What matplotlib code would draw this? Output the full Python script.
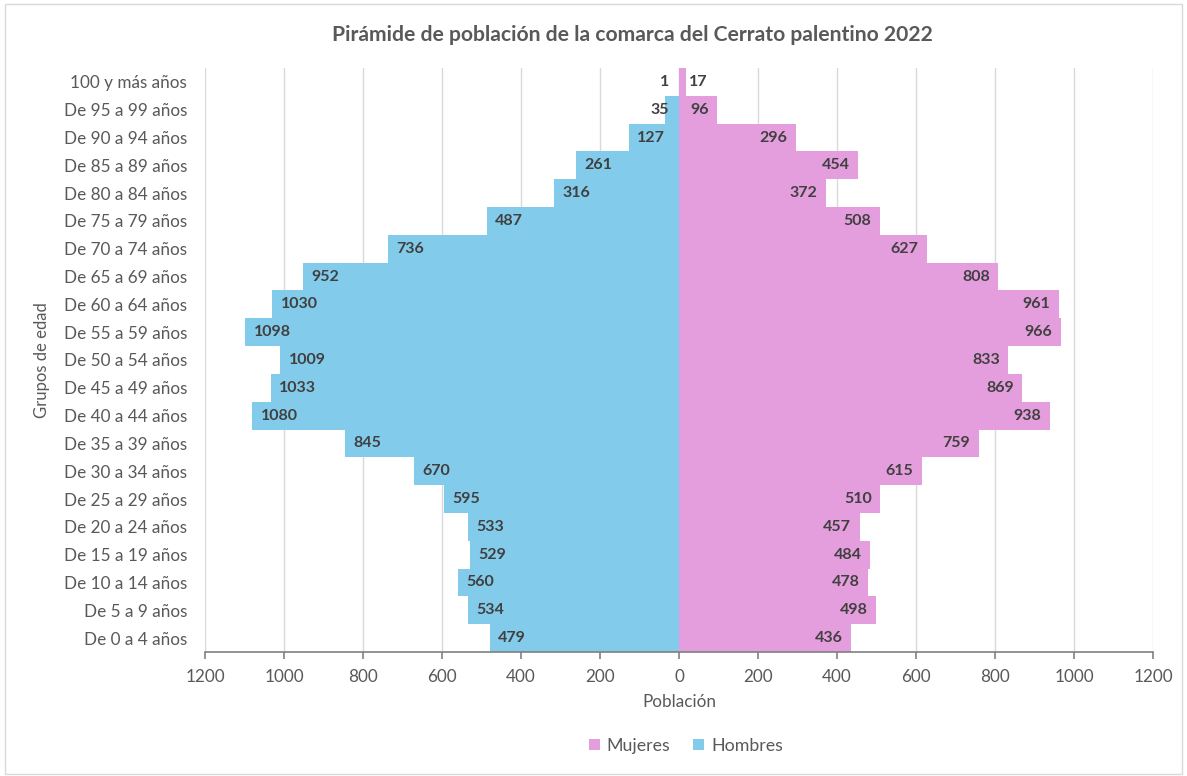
import matplotlib
matplotlib.use("Agg")
import matplotlib.pyplot as plt
from matplotlib.patches import Rectangle

grupos = ["De 0 a 4 años", "De 5 a 9 años", "De 10 a 14 años", "De 15 a 19 años",
          "De 20 a 24 años", "De 25 a 29 años", "De 30 a 34 años", "De 35 a 39 años",
          "De 40 a 44 años", "De 45 a 49 años", "De 50 a 54 años", "De 55 a 59 años",
          "De 60 a 64 años", "De 65 a 69 años", "De 70 a 74 años", "De 75 a 79 años",
          "De 80 a 84 años", "De 85 a 89 años", "De 90 a 94 años", "De 95 a 99 años",
          "100 y más años"]
hombres = [479, 534, 560, 529, 533, 595, 670, 845, 1080, 1033, 1009, 1098,
           1030, 952, 736, 487, 316, 261, 127, 35, 1]
mujeres = [436, 498, 478, 484, 457, 510, 615, 759, 938, 869, 833, 966,
           961, 808, 627, 508, 372, 454, 296, 96, 17]
xticks = [-1200, -1000, -800, -600, -400, -200, 0, 200, 400, 600, 800, 1000, 1200]

C_H = "#83CBEB"
C_M = "#E59EDD"
TXT = "#595959"
LBL = "#404040"

plt.rcParams['font.family'] = ['Lato', 'DejaVu Sans']

fig = plt.figure(figsize=(11.87, 7.76), dpi=100)
fig.patches.append(Rectangle((0.004, 0.003), 0.992, 0.992, transform=fig.transFigure,
                             fill=False, edgecolor="#D9D9D9", linewidth=1.0))
ax = fig.add_axes([205/1187, 1-652/776, (1153-205)/1187, (652-68)/776])

y = list(range(len(grupos)))
ax.barh(y, [-v for v in hombres], height=1.0, color=C_H, label="Hombres", zorder=2)
ax.barh(y, mujeres, height=1.0, color=C_M, label="Mujeres", zorder=2)

for i, (h, m) in enumerate(zip(hombres, mujeres)):
    if h >= 60:
        ax.annotate(str(h), (-h, i), xytext=(6, 0), textcoords="offset points",
                    ha="left", va="center", fontsize=11.5, fontweight="bold", color=LBL)
    else:
        ax.annotate(str(h), (0, i), xytext=(-7, 0), textcoords="offset points",
                    ha="right", va="center", fontsize=11.5, fontweight="bold", color=LBL)
    if m >= 60:
        ax.annotate(str(m), (m, i), xytext=(-6, 0), textcoords="offset points",
                    ha="right", va="center", fontsize=11.5, fontweight="bold", color=LBL)
    else:
        ax.annotate(str(m), (m, i), xytext=(2, 0), textcoords="offset points",
                    ha="left", va="center", fontsize=11.5, fontweight="bold", color=LBL)

ax.set_xlim(-1200, 1200)
ax.set_ylim(-0.5, len(grupos) - 0.5)
ax.set_xticks(xticks)
ax.set_xticklabels([str(abs(v)) for v in xticks])
ax.set_yticks(y)
ax.set_yticklabels(grupos)
ax.grid(axis="x", color="#D9D9D9", linewidth=1.0, zorder=0)
for s in ["top", "right", "left"]:
    ax.spines[s].set_visible(False)
ax.spines["bottom"].set_color("#808080")
ax.spines["bottom"].set_linewidth(1.2)
ax.tick_params(axis="x", colors="#808080", length=5, width=1.2, labelsize=12.3,
               labelcolor=TXT, pad=7)
ax.tick_params(axis="y", length=0, labelsize=12.3, labelcolor=TXT, pad=13)

ax.set_xlabel("Población", fontsize=12.3, color=TXT, labelpad=7)
ax.set_ylabel("Grupos de edad", fontsize=12, color=TXT, labelpad=10)

fig.text(632/1187, 1-35/776, "Pirámide de población de la comarca del Cerrato palentino 2022",
         ha="center", va="center", fontsize=15.2, fontweight="bold", color=TXT)

handles, labels = ax.get_legend_handles_labels()
order = [1, 0]
fig.legend([handles[i] for i in order], [labels[i] for i in order],
           loc="center", bbox_to_anchor=(686/1187, 1-746/776), ncol=2, frameon=False,
           fontsize=12.8, labelcolor=TXT, handlelength=0.6, handleheight=0.6,
           handletextpad=0.4, columnspacing=1.3)

fig.savefig("out.png", dpi=100)
